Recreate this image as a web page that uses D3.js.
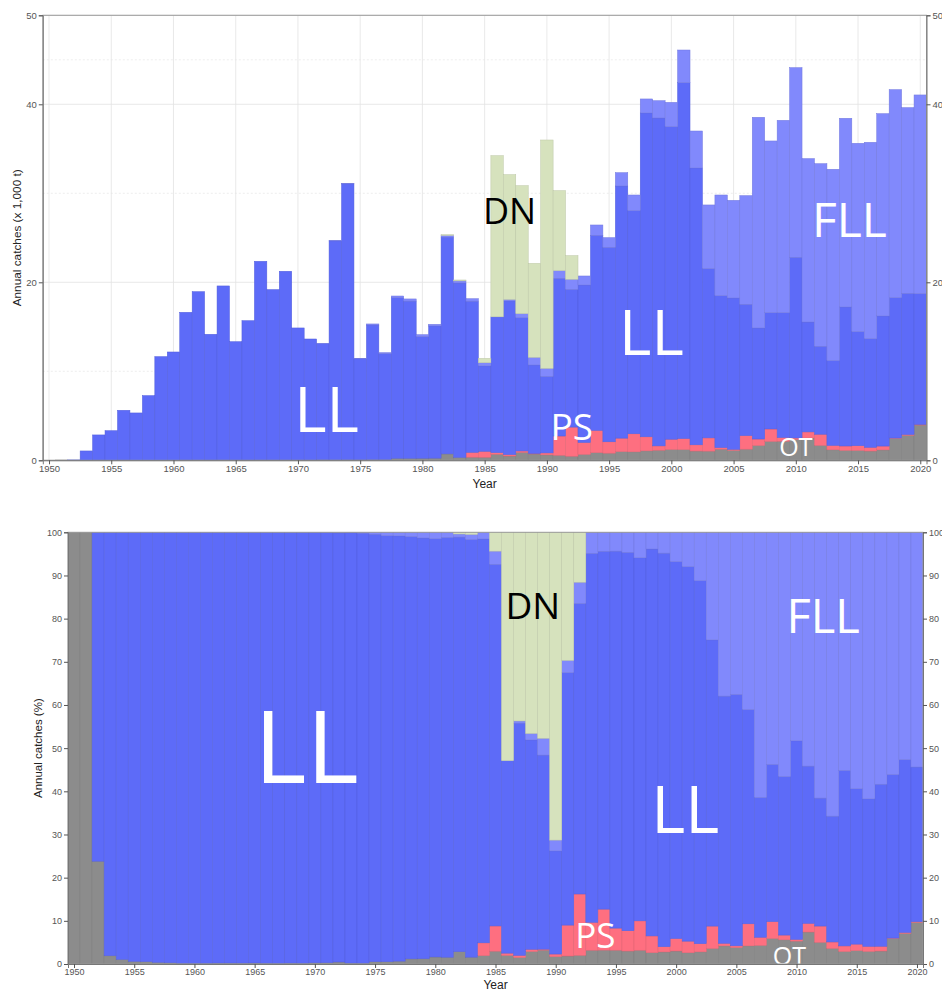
<!DOCTYPE html>
<html>
<head>
<meta charset="utf-8">
<script src="https://cdn.jsdelivr.net/npm/d3@7"></script>
<style>
  body { margin: 0; background: #fff; }
  svg { display: block; font-family: "Liberation Sans", Arial, sans-serif; }
  .gear-label { font-family: "Open Sans", "Noto Sans", sans-serif; }
</style>
</head>
<body>
<div id="chart"></div>
<script>
// catches by gear, thousand tonnes, 1950-2020
var years = d3.range(1950, 2021);
var gears = ["OT", "PS", "LL", "FLL", "DN"];

var OT = [0.01, 0.03, 0.01, 0.02, 0.03, 0.02, 0.03, 0.02, 0.02, 0.02,
  0.02, 0.03, 0.04, 0.03, 0.04, 0.03, 0.03, 0.04, 0.04, 0.04,
  0.04, 0.04, 0.06, 0.05, 0.06, 0.06, 0.08, 0.08, 0.22, 0.22,
  0.23, 0.24, 0.72, 0.32, 0.35, 0.34, 0.68, 0.48, 0.89, 0.71,
  0.61, 0.56, 0.46, 0.66, 0.85, 0.80, 0.97, 0.95, 1.06, 1.13,
  1.21, 1.20, 1.04, 1.03, 1.25, 1.11, 1.25, 1.66, 2.12, 2.14,
  2.34, 2.51, 1.67, 1.18, 1.11, 1.10, 1.04, 1.17, 2.46, 2.81,
  3.96];
var PS = [0, 0, 0, 0, 0, 0, 0, 0, 0, 0,
  0, 0, 0, 0, 0, 0, 0, 0, 0, 0,
  0, 0, 0, 0, 0, 0, 0, 0, 0, 0,
  0, 0, 0, 0, 0.54, 0.67, 0.18, 0.16, 0.16, 0.05,
  0.22, 2.17, 3.27, 1.34, 2.51, 1.28, 1.52, 2.03, 1.58, 0.49,
  1.16, 1.24, 0.70, 1.49, 0.18, 0.12, 1.52, 0.73, 1.40, 0.42,
  0.17, 0.68, 1.26, 0.49, 0.50, 0.54, 0.42, 0.43, 0.04, 0.08,
  0.06];
var LL = [0, 0, 0.032, 1.03, 2.82, 3.31, 5.59, 5.30, 7.25, 11.63,
  12.15, 16.60, 18.91, 14.13, 19.55, 13.30, 15.66, 22.32, 19.14, 21.20,
  14.83, 13.59, 13.07, 24.60, 31.00, 11.35, 15.12, 11.92, 18.06, 17.67,
  13.68, 14.86, 24.36, 19.60, 16.99, 9.60, 15.26, 17.27, 14.97, 9.95,
  8.60, 17.72, 15.48, 17.70, 21.92, 21.85, 28.33, 25.07, 36.39, 36.84,
  35.12, 39.99, 31.11, 19.02, 17.07, 17.01, 14.76, 12.48, 13.07, 14.03,
  20.30, 12.35, 9.88, 9.53, 15.62, 12.82, 12.21, 14.62, 15.78, 15.87,
  14.71];
var FLL = [0, 0, 0, 0, 0, 0, 0, 0, 0, 0,
  0, 0, 0, 0, 0, 0, 0, 0, 0, 0,
  0, 0, 0.02, 0.03, 0.06, 0.05, 0.12, 0.10, 0.18, 0.24,
  0.21, 0.18, 0.18, 0.24, 0.28, 0.35, 0, 0.16, 0.46, 0.86,
  0.90, 0.86, 1.13, 1.01, 1.16, 1.09, 1.50, 1.76, 1.57, 1.95,
  2.73, 3.67, 4.15, 7.15, 11.31, 10.97, 12.21, 23.67, 19.29, 21.61,
  21.31, 18.36, 20.52, 21.50, 21.20, 21.16, 22.06, 22.73, 23.37, 20.87,
  22.32];
var DN = [0, 0, 0, 0, 0, 0, 0, 0, 0, 0,
  0, 0, 0, 0, 0, 0, 0, 0, 0, 0,
  0, 0, 0, 0, 0, 0, 0, 0, 0, 0,
  0, 0, 0.10, 0.10, 0, 0.50, 18.11, 14.03, 14.38, 10.56,
  25.66, 8.99, 2.66, 0, 0, 0, 0, 0, 0, 0,
  0, 0, 0, 0, 0, 0, 0, 0, 0, 0,
  0, 0, 0, 0, 0, 0, 0, 0, 0, 0,
  0];

var colors = { OT: "#8c8c8c", PS: "#fe6f80", LL: "#5d6bf8", FLL: "#8189fc", DN: "#d6e2bd" };
var yearTicks = d3.range(1950, 2021, 5);

var rows = years.map(function (y, i) {
  return { year: y, OT: OT[i], PS: PS[i], LL: LL[i], FLL: FLL[i], DN: DN[i] };
});

var svg = d3.select("#chart").append("svg")
  .attr("width", 942)
  .attr("height", 992);

function drawPanel(p) {
  var x = d3.scaleLinear().domain([1949.5, 2020.5]).range([p.left, p.right]);
  var y = d3.scaleLinear().domain([0, p.yMax]).range([p.bottom, p.top]);
  var g = svg.append("g");

  var clipId = "clip-" + p.id;
  g.append("clipPath").attr("id", clipId)
    .append("rect")
    .attr("x", p.left).attr("y", p.top)
    .attr("width", p.right - p.left).attr("height", p.bottom - p.top);

  // grid
  if (p.grid) {
    g.selectAll(".vgrid").data(yearTicks).enter().append("line")
      .attr("x1", d => x(d)).attr("x2", d => x(d))
      .attr("y1", p.top).attr("y2", p.bottom)
      .attr("stroke", "#e3e3e3").attr("stroke-width", 0.8);
    g.selectAll(".hgrid").data(p.yTicks).enter().append("line")
      .attr("x1", p.left).attr("x2", p.right)
      .attr("y1", d => y(d)).attr("y2", d => y(d))
      .attr("stroke", "#e3e3e3").attr("stroke-width", 0.8);
    g.selectAll(".mgrid").data(p.minor).enter().append("line")
      .attr("x1", p.left).attr("x2", p.right)
      .attr("y1", d => y(d)).attr("y2", d => y(d))
      .attr("stroke", "#e6e6e6").attr("stroke-width", 0.7)
      .attr("stroke-dasharray", "2,2");
  }

  var stack = d3.stack().keys(gears);
  if (p.percent) stack.offset(d3.stackOffsetExpand);
  var series = stack(rows);

  var bw = x(1) - x(0);
  g.append("g").selectAll("g")
    .data(series)
    .enter()
    .append("g")
    .attr("fill", d => colors[d.key])
    .attr("stroke", d => d3.color(colors[d.key]).darker(0.35))
    .attr("stroke-width", 0.5)
    .selectAll("rect")
    .data(d => d)
    .enter()
    .append("rect")
    .attr("x", d => x(d.data.year) - bw / 2)
    .attr("width", bw)
    .attr("y", d => y(d[1]))
    .attr("height", d => Math.max(0, y(d[0]) - y(d[1])));

  // gear labels
  g.append("g").attr("clip-path", "url(#" + clipId + ")")
    .selectAll("text")
    .data(p.labels)
    .enter()
    .append("text")
    .attr("class", "gear-label")
    .attr("x", d => x(d.yr))
    .attr("y", d => y(d.v))
    .attr("text-anchor", "middle")
    .attr("font-size", d => d.size + "px")
    .attr("fill", d => d.color)
    .text(d => d.t);

  // frame
  g.append("rect")
    .attr("x", p.left).attr("y", p.top)
    .attr("width", p.right - p.left).attr("height", p.bottom - p.top)
    .attr("fill", "none").attr("stroke", "#9a9a9a").attr("stroke-width", 1);

  var fmt = p.percent ? (d => Math.round(d * 100)) : d3.format("d");

  var leftAxis = g.append("g")
    .attr("transform", `translate(${p.left},0)`)
    .call(d3.axisLeft(y).tickValues(p.yTicks).tickFormat(fmt).tickSize(4).tickPadding(2));
  var rightAxis = g.append("g")
    .attr("transform", `translate(${p.right},0)`)
    .call(d3.axisRight(y).tickValues(p.yTicks).tickFormat(fmt).tickSize(4).tickPadding(2));
  var bottomAxis = g.append("g")
    .attr("transform", `translate(0,${p.bottom})`)
    .call(d3.axisBottom(x).tickValues(yearTicks).tickFormat(d3.format("d")).tickSize(4).tickPadding(1));

  [leftAxis, rightAxis, bottomAxis].forEach(function (a) {
    a.select(".domain").attr("stroke", "#777");
    a.selectAll(".tick line").attr("stroke", "#555");
    a.selectAll(".tick text")
      .attr("fill", "#555")
      .attr("font-size", p.tickSize + "px")
      .attr("font-family", "'Liberation Sans', Arial, sans-serif");
  });

  g.append("text")
    .attr("transform", `translate(${p.titleX}, ${(p.top + p.bottom) / 2}) rotate(-90)`)
    .attr("text-anchor", "middle")
    .attr("font-size", p.titleSize + "px")
    .attr("fill", "#222")
    .text(p.yTitle);

  g.append("text")
    .attr("x", (p.left + p.right) / 2)
    .attr("y", p.xTitleY)
    .attr("text-anchor", "middle")
    .attr("font-size", "12px")
    .attr("fill", "#222")
    .text("Year");
}

drawPanel({
  id: "abs", left: 42.8, right: 926.5, top: 15.3, bottom: 460.3,
  yMax: 50, yTicks: [0, 20, 40, 50], minor: [10, 30, 45], grid: true,
  percent: false, tickSize: 9.5, titleSize: 11.8, titleX: 21,
  yTitle: "Annual catches (x 1,000 t)", xTitleY: 488,
  labels: [
    { t: "LL", yr: 1972.3, v: 3.2, size: 62, color: "#fff" },
    { t: "DN", yr: 1987.0, v: 26.5, size: 36, color: "#000" },
    { t: "LL", yr: 1998.4, v: 11.8, size: 62, color: "#fff" },
    { t: "FLL", yr: 2014.3, v: 25.1, size: 48, color: "#fff" },
    { t: "PS", yr: 1992.0, v: 2.3, size: 37, color: "#fff" },
    { t: "OT", yr: 2010.0, v: 0.45, size: 25, color: "#fff" }
  ]
});

drawPanel({
  id: "pct", left: 68, right: 923, top: 532.3, bottom: 964,
  yMax: 1, yTicks: d3.range(0, 1.001, 0.1), minor: [], grid: false,
  percent: true, tickSize: 9, titleSize: 11.5, titleX: 42,
  yTitle: "Annual catches (%)", xTitleY: 989,
  labels: [
    { t: "LL", yr: 1969.3, v: 0.419, size: 100, color: "#fff" },
    { t: "DN", yr: 1988.1, v: 0.799, size: 37, color: "#000" },
    { t: "LL", yr: 2000.75, v: 0.303, size: 65, color: "#fff" },
    { t: "FLL", yr: 2012.2, v: 0.767, size: 47, color: "#fff" },
    { t: "PS", yr: 1993.3, v: 0.037, size: 35, color: "#fff" },
    { t: "OT", yr: 2009.4, v: -0.003, size: 25, color: "#fff" }
  ]
});
</script>
</body>
</html>
